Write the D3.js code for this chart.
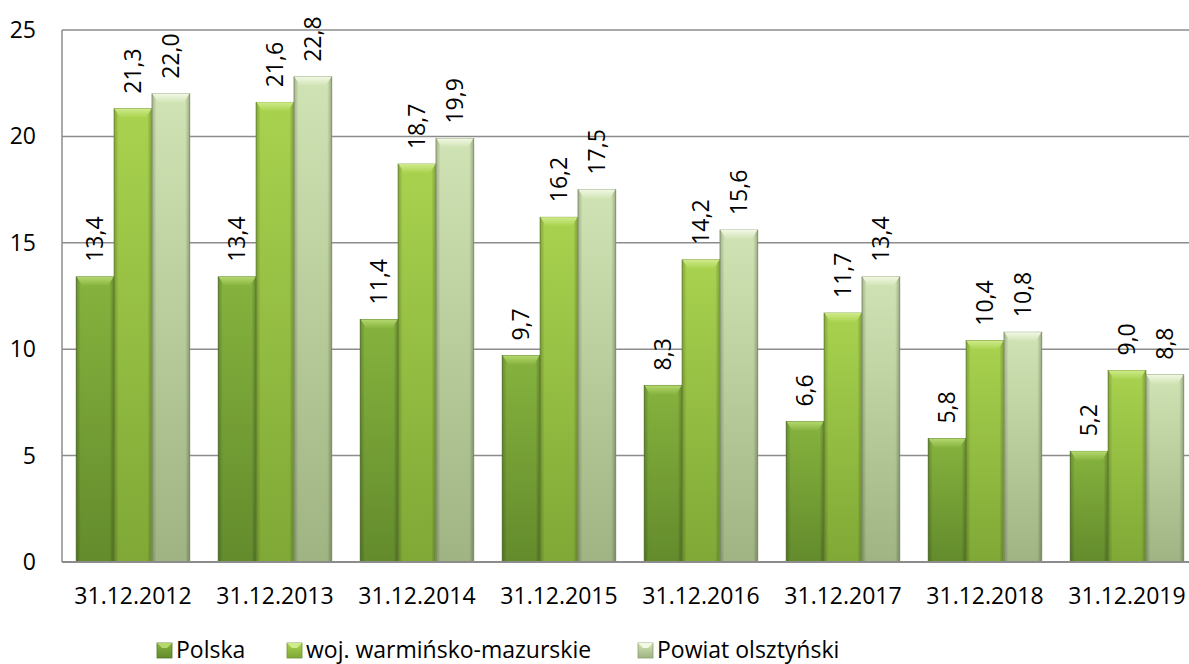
<!DOCTYPE html>
<html>
<head>
<meta charset="utf-8">
<script src="https://cdn.jsdelivr.net/npm/d3@7"></script>
<style>
  body { margin: 0; background: #fff; }
  svg text { font-family: "Open Sans", "Noto Sans", sans-serif; fill: #000; }
</style>
</head>
<body>
<div id="chart"></div>
<script>
const categories = ["31.12.2012", "31.12.2013", "31.12.2014", "31.12.2015",
  "31.12.2016", "31.12.2017", "31.12.2018", "31.12.2019"];
const seriesNames = ["Polska", "woj. warmińsko-mazurskie", "Powiat olsztyński"];
const polska = [13.4, 13.4, 11.4, 9.7, 8.3, 6.6, 5.8, 5.2];
const warminsko = [21.3, 21.6, 18.7, 16.2, 14.2, 11.7, 10.4, 9.0];
const olsztynski = [22.0, 22.8, 19.9, 17.5, 15.6, 13.4, 10.8, 8.8];
const yTicks = [0, 5, 10, 15, 20, 25];

// top / bottom / bevel colours per series
const palette = [
  { top: "#86b33e", bottom: "#638b2c", bevel: "#b4d86e", edge: "#55772a" },
  { top: "#a8d24e", bottom: "#7fa836", bevel: "#cfeb8a", edge: "#6f9530" },
  { top: "#d0e3b4", bottom: "#9fb482", bevel: "#f1f8e4", edge: "#8c9f72" }
];

const W = 1189, H = 664;
const svg = d3.select("#chart").append("svg").attr("width", W).attr("height", H);

const x = d3.scaleBand().domain(categories).range([62, 1198]).paddingInner(0.2).paddingOuter(0.1);
const xs = d3.scaleBand().domain(seriesNames).range([0, x.bandwidth()]);
const y = d3.scaleLinear().domain([0, 25]).range([562, 30]);

const defs = svg.append("defs");
palette.forEach((p, i) => {
  const g = defs.append("linearGradient").attr("id", "v" + i)
    .attr("x1", 0).attr("y1", 0).attr("x2", 0).attr("y2", 1);
  g.append("stop").attr("offset", "0%").attr("stop-color", p.top);
  g.append("stop").attr("offset", "100%").attr("stop-color", p.bottom);
  const b = defs.append("linearGradient").attr("id", "b" + i)
    .attr("x1", 0).attr("y1", 0).attr("x2", 0).attr("y2", 1);
  b.append("stop").attr("offset", "0%").attr("stop-color", p.bevel);
  b.append("stop").attr("offset", "100%").attr("stop-color", p.top);
});
const side = defs.append("linearGradient").attr("id", "side")
  .attr("x1", 0).attr("y1", 0).attr("x2", 1).attr("y2", 0);
side.append("stop").attr("offset", "0%").attr("stop-color", "#000").attr("stop-opacity", 0.22);
side.append("stop").attr("offset", "12%").attr("stop-color", "#000").attr("stop-opacity", 0.0);
side.append("stop").attr("offset", "88%").attr("stop-color", "#000").attr("stop-opacity", 0.0);
side.append("stop").attr("offset", "100%").attr("stop-color", "#000").attr("stop-opacity", 0.25);

// gridlines
svg.append("g").selectAll("line").data(yTicks.filter(d => d > 0)).join("line")
  .attr("x1", 62).attr("x2", W).attr("y1", d => y(d)).attr("y2", d => y(d))
  .attr("stroke", "#8c8c8c").attr("stroke-width", 1.5);

// y axis labels
svg.append("g").selectAll("text").data(yTicks).join("text")
  .attr("x", 36).attr("y", d => y(d) + 8)
  .attr("text-anchor", "end").style("font-size", "23px")
  .text(d => d);

const rows = categories.map((c, i) => ({
  cat: c,
  vals: [polska[i], warminsko[i], olsztynski[i]]
}));

const groups = svg.append("g").selectAll("g").data(rows).join("g")
  .attr("transform", d => `translate(${x(d.cat)},0)`);

const bars = groups.selectAll("g").data(d => d.vals.map((v, k) => ({ v, k, name: seriesNames[k] })))
  .join("g")
  .attr("transform", d => `translate(${xs(d.name)},0)`);

const bw = xs.bandwidth();
const bev = 9;

bars.append("rect")
  .attr("x", 0).attr("width", bw)
  .attr("y", d => y(d.v)).attr("height", d => y(0) - y(d.v))
  .attr("fill", d => `url(#v${d.k})`)
  .attr("stroke", d => palette[d.k].edge).attr("stroke-width", 0.8);

bars.append("rect")
  .attr("x", 0).attr("width", bw)
  .attr("y", d => y(d.v)).attr("height", d => y(0) - y(d.v))
  .attr("fill", "url(#side)");

bars.append("path")
  .attr("d", d => {
    const t = y(d.v);
    return `M0.5,${t} L${bw - 0.5},${t} L${bw - 6},${t + bev} L6,${t + bev} Z`;
  })
  .attr("fill", d => `url(#b${d.k})`);

// value labels
bars.append("text")
  .attr("transform", d => `translate(${bw / 2},${y(d.v) - 15}) rotate(-90)`)
  .attr("y", 8)
  .style("font-size", "23px")
  .text(d => d3.format(".1f")(d.v).replace(".", ","));

// axes frame
svg.append("line").attr("x1", 62).attr("x2", 62).attr("y1", y(25)).attr("y2", y(0))
  .attr("stroke", "#8c8c8c").attr("stroke-width", 1.5);
svg.append("line").attr("x1", 62).attr("x2", W).attr("y1", y(0)).attr("y2", y(0))
  .attr("stroke", "#8c8c8c").attr("stroke-width", 2);

// category labels
svg.append("g").selectAll("text").data(categories).join("text")
  .attr("x", d => x(d) + x.bandwidth() / 2).attr("y", 604)
  .attr("text-anchor", "middle").style("font-size", "23px")
  .text(d => d);

// legend
const legendX = [157, 287, 638];
const legend = svg.append("g").selectAll("g").data(seriesNames).join("g")
  .attr("transform", (d, i) => `translate(${legendX[i]},643)`);
legend.append("rect").attr("width", 15).attr("height", 15)
  .attr("fill", (d, i) => `url(#v${i})`)
  .attr("stroke", (d, i) => palette[i].edge).attr("stroke-width", 0.8);
legend.append("path").attr("d", "M0,0 L15,0 L10,5 L5,5 Z")
  .attr("fill", (d, i) => palette[i].bevel);
legend.append("text").attr("x", 19).attr("y", 15)
  .style("font-size", "23px").text(d => d);
</script>
</body>
</html>
